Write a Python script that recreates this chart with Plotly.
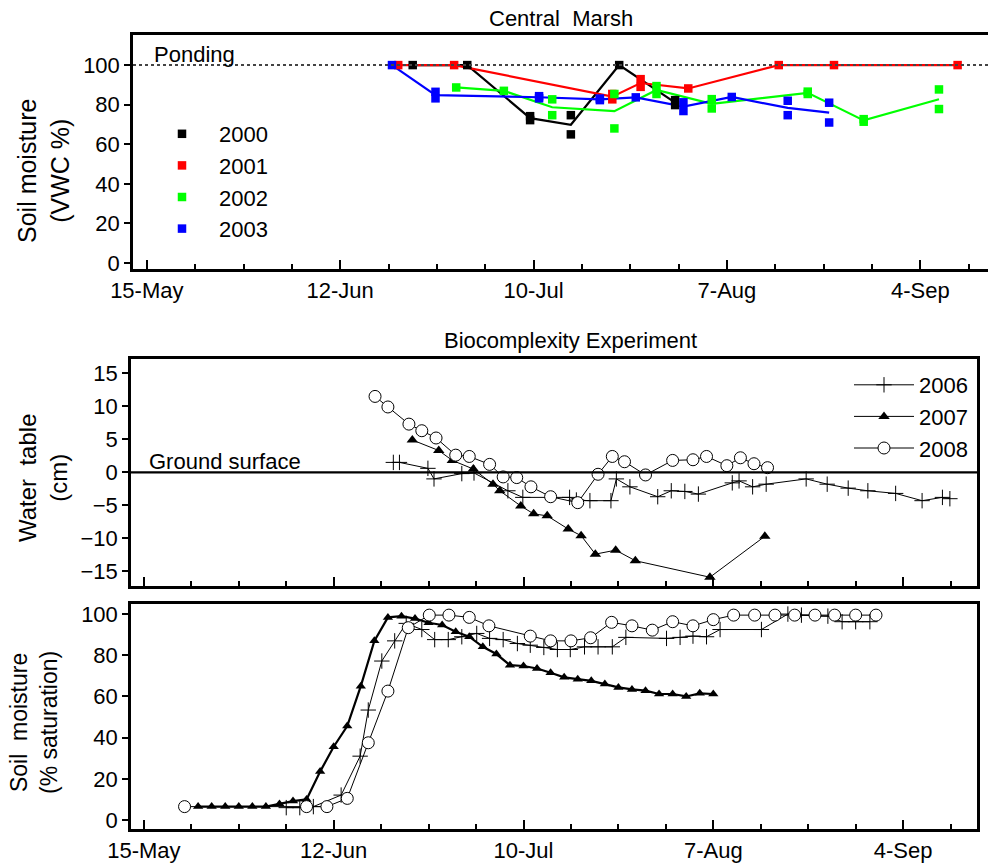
import plotly.graph_objects as go
import pandas as pd

W, H = 988, 863

# ---------------- tick labels (day of year) ----------------
date_ticks = [135, 163, 191, 219, 247]
date_labels = ["15-May", "12-Jun", "10-Jul", "7-Aug", "4-Sep"]

# ---------------- Central Marsh: soil moisture (VWC %) ----------------
cm2000_day = [173.5, 181.4, 190.5, 190.5, 196.4, 196.4, 203.4, 211.5, 211.5]
cm2000_val = [100, 100, 74.2, 72.2, 74.7, 65.0, 100, 82.3, 79.8]

cm2001_day = [171.4, 179.5, 202.4, 202.4, 206.5, 206.5, 213.4, 226.5, 234.5, 252.4]
cm2001_val = [100, 100, 82.7, 85.4, 92.9, 89.0, 88.2, 100, 100, 100]

cm2002_day = [179.8, 186.7, 193.7, 193.7, 202.7, 202.7, 208.8, 208.8, 216.8, 216.8,
              230.7, 230.7, 238.8, 238.8, 249.7, 249.7]
cm2002_val = [88.7, 87.0, 82.7, 74.7, 85.4, 68.0, 85.4, 89.4, 82.8, 78.1,
              85.4, 86.6, 72.7, 71.4, 87.7, 77.8]

cm2003_day = [170.5, 176.8, 176.8, 191.8, 191.8, 200.6, 200.6, 205.8, 212.7, 212.7,
              219.7, 227.8, 227.8, 233.8, 233.8]
cm2003_val = [100, 86.5, 83.2, 84.3, 83.2, 82.3, 83.1, 83.7, 81.2, 76.8,
              83.9, 82.0, 74.7, 81.0, 71.0]

# ---------------- Biocomplexity: water table (cm) ----------------
wt2006_day = [171.8, 172.7, 176.9, 177.8, 181.9, 183.7, 188.7, 190.9, 197.8, 198.8,
              200.8, 203.9, 204.7, 206.7, 210.8, 212.8, 214.8, 216.8, 221.8, 222.8,
              224.8, 226.8, 232.7, 235.8, 238.9, 241.8, 245.9, 249.8, 252.8, 253.9]
wt2006_val = [1.5, 1.5, 0.6, -1.0, -0.2, -0.1, -2.8, -3.8, -3.8, -4.2,
              -4.3, -4.3, -1.0, -2.2, -3.7, -2.8, -2.9, -3.3, -1.6, -1.3,
              -2.2, -1.8, -1.0, -1.8, -2.4, -2.8, -3.2, -4.3, -3.8, -4.0]

wt2007_day = [174.6, 178.5, 180.5, 183.6, 186.5, 187.5, 190.6, 192.5, 194.5, 197.6,
              199.5, 201.6, 204.6, 207.5, 218.5, 226.6]
wt2007_val = [4.9, 3.3, 1.8, 0.5, -1.8, -2.8, -5.1, -6.3, -6.6, -8.6,
              -9.6, -12.4, -11.8, -13.4, -15.9, -9.7]

wt2008_day = [169.1, 171.0, 174.1, 176.0, 178.1, 181.0, 183.0, 186.0, 188.0, 190.0,
              192.1, 195.0, 199.0, 202.0, 204.1, 205.9, 209.0, 213.0, 216.0, 218.0,
              221.0, 223.0, 225.0, 227.0]
wt2008_val = [11.5, 9.9, 7.3, 6.3, 5.2, 2.6, 2.4, 1.2, -0.7, -0.8,
              -2.2, -3.7, -4.6, -0.3, 2.4, 1.6, -0.4, 1.8, 1.9, 2.4,
              1.0, 2.2, 1.3, 0.7]

# ---------------- Biocomplexity: soil moisture (% saturation) ----------------
sm2006_day = [156.0, 158.0, 160.0, 164.1, 166.9, 168.1, 170.1, 172.0, 173.7, 176.0,
              177.9, 179.9, 181.9, 184.1, 186.0, 188.0, 190.1, 192.0, 194.0, 196.0,
              197.9, 200.0, 202.0, 204.1, 206.1, 212.1, 214.1, 216.0, 218.0, 220.0,
              226.1, 230.0, 232.0, 235.9, 238.0, 240.0, 242.1]
sm2006_val = [6.0, 6.0, 6.5, 12.1, 31.0, 53.4, 77.2, 87.0, 95.5, 92.5,
              87.6, 87.6, 89.0, 90.6, 88.2, 87.6, 85.7, 84.9, 83.8, 82.8,
              82.8, 84.1, 84.1, 84.1, 88.7, 88.2, 88.7, 89.3, 89.0, 92.5,
              92.5, 100.0, 99.5, 99.0, 96.3, 96.3, 96.3]

sm2007_day = [143, 145, 147, 149, 151, 153, 155, 157, 159, 161,
              163, 165, 167, 169, 171, 173, 175, 177, 179, 181,
              183, 185, 187, 189, 191, 193, 195, 197, 199, 201,
              203, 205, 207, 209, 211, 213, 215, 217, 219]
sm2007_val = [6.5, 6.5, 6.5, 6.5, 6.5, 6.5, 7.8, 9.2, 10.0, 23.5,
              35.6, 45.6, 65.0, 87.0, 98.4, 99.0, 97.8, 95.8, 94.7, 91.4,
              89.0, 84.1, 80.6, 75.2, 74.8, 73.6, 71.5, 69.3, 68.4, 67.6,
              66.0, 64.4, 63.4, 62.8, 61.2, 61.2, 60.0, 61.5, 61.2]

sm2008_day = [141.0, 159.0, 162.0, 165.0, 168.1, 171.0, 174.0, 177.1, 180.0, 183.0,
              185.9, 192.0, 195.0, 198.0, 200.9, 204.0, 207.0, 210.0, 213.0, 216.0,
              219.0, 222.0, 225.1, 228.1, 231.0, 234.0, 236.9, 240.0, 243.0]
sm2008_val = [6.5, 6.5, 6.5, 10.5, 37.5, 62.6, 93.4, 99.5, 99.5, 98.4,
              94.3, 89.3, 87.0, 87.0, 88.5, 96.0, 94.3, 92.2, 96.3, 94.3,
              97.3, 99.5, 99.5, 99.5, 99.5, 99.5, 99.5, 99.5, 99.5]

FONT = "Liberation Sans, Arial, sans-serif"

fig = go.Figure()

# ---------- top panel ----------
cm_series = [("2000", cm2000_day, cm2000_val, "#000000"),
             ("2001", cm2001_day, cm2001_val, "#ff0000"),
             ("2002", cm2002_day, cm2002_val, "#00ff00"),
             ("2003", cm2003_day, cm2003_val, "#0000ff")]
for name, d, v, c in cm_series:
    mean = pd.DataFrame({"d": d, "v": v}).groupby("d", sort=True)["v"].mean()
    fig.add_trace(go.Scatter(x=mean.index, y=mean.values, mode="lines",
                             line=dict(color=c, width=2.2), showlegend=False,
                             xaxis="x", yaxis="y", hoverinfo="skip"))
for name, d, v, c in cm_series:
    fig.add_trace(go.Scatter(x=d, y=v, mode="markers", name=name,
                             marker=dict(symbol="square", size=8.5, color=c, line=dict(width=0)),
                             xaxis="x", yaxis="y", legend="legend"))

# ---------- middle panel ----------
fig.add_trace(go.Scatter(x=wt2006_day, y=wt2006_val, mode="lines+markers", name="2006",
                         line=dict(color="black", width=1),
                         marker=dict(symbol="cross-thin", size=11, color="black",
                                     line=dict(width=1, color="black")),
                         xaxis="x2", yaxis="y2", legend="legend2"))
fig.add_trace(go.Scatter(x=wt2007_day, y=wt2007_val, mode="lines+markers", name="2007",
                         line=dict(color="black", width=1),
                         marker=dict(symbol="triangle-up", size=10, color="black"),
                         xaxis="x2", yaxis="y2", legend="legend2"))
fig.add_trace(go.Scatter(x=wt2008_day, y=wt2008_val, mode="lines+markers", name="2008",
                         line=dict(color="black", width=1),
                         marker=dict(symbol="circle", size=12, color="white",
                                     line=dict(width=1, color="black")),
                         xaxis="x2", yaxis="y2", legend="legend2"))

# ---------- bottom panel ----------
fig.add_trace(go.Scatter(x=sm2006_day, y=sm2006_val, mode="lines+markers", showlegend=False,
                         line=dict(color="black", width=1),
                         marker=dict(symbol="cross-thin", size=11, color="black",
                                     line=dict(width=1, color="black")),
                         xaxis="x3", yaxis="y3"))
fig.add_trace(go.Scatter(x=sm2007_day, y=sm2007_val, mode="lines+markers", showlegend=False,
                         line=dict(color="black", width=2.2),
                         marker=dict(symbol="triangle-up", size=9, color="black"),
                         xaxis="x3", yaxis="y3"))
fig.add_trace(go.Scatter(x=sm2008_day, y=sm2008_val, mode="lines+markers", showlegend=False,
                         line=dict(color="black", width=1),
                         marker=dict(symbol="circle", size=12, color="white",
                                     line=dict(width=1, color="black")),
                         xaxis="x3", yaxis="y3"))


def px(xp):
    return xp / W


def py(yp):
    return 1 - yp / H


tickfont = dict(family=FONT, size=22, color="black")
xcommon = dict(tickmode="array", tickvals=date_ticks, ticktext=date_labels,
               ticks="inside", ticklen=9, tickwidth=2, tickcolor="black",
               minor=dict(tickmode="linear", tick0=135, dtick=7, ticks="inside",
                          ticklen=5, tickwidth=2, tickcolor="black"),
               showline=True, linecolor="black", linewidth=2.5,
               showgrid=False, zeroline=False, tickfont=tickfont)
ycommon = dict(ticks="outside", ticklen=6, tickwidth=2, tickcolor="black",
               showline=True, linecolor="black", linewidth=2.5,
               showgrid=False, zeroline=False, tickfont=tickfont)

fig.update_layout(
    width=W, height=H,
    margin=dict(l=0, r=0, t=0, b=0, autoexpand=False),
    paper_bgcolor="white", plot_bgcolor="white",
    font=dict(family=FONT, color="black"),
    xaxis=dict(domain=[px(133), 1.0], range=[133.0, 256.8], mirror=True,
               anchor="y", **xcommon),
    yaxis=dict(domain=[py(269), py(35)], range=[-3.0, 115.2], tickmode="array",
               tickvals=[0, 20, 40, 60, 80, 100], anchor="x", **ycommon),
    xaxis2=dict(domain=[px(131), px(977)], range=[133.1, 257.9], mirror=True,
                showticklabels=False, anchor="y2", **xcommon),
    yaxis2=dict(domain=[py(586), py(359)], range=[-17.23, 17.17], tickmode="array",
                tickvals=[-15, -10, -5, 0, 5, 10, 15], mirror=True, anchor="x2", **ycommon),
    xaxis3=dict(domain=[px(131), px(977)], range=[133.1, 257.9], mirror=True,
                anchor="y3", **xcommon),
    yaxis3=dict(domain=[py(829), py(604)], range=[-4.37, 104.9], tickmode="array",
                tickvals=[0, 20, 40, 60, 80, 100], mirror=True, anchor="x3", **ycommon),
    legend=dict(x=px(145), y=py(113), xanchor="left", yanchor="top",
                font=dict(family=FONT, size=22), bgcolor="rgba(0,0,0,0)",
                tracegroupgap=0, itemwidth=64),
    legend2=dict(x=px(849), y=py(364), xanchor="left", yanchor="top",
                 font=dict(family=FONT, size=22), bgcolor="rgba(0,0,0,0)",
                 itemwidth=60, tracegroupgap=0),
    showlegend=True,
)

# reference lines
fig.add_shape(type="line", xref="x domain", yref="y", x0=0, x1=1, y0=100, y1=100,
              line=dict(color="#444444", width=2, dash="dot"))
fig.add_shape(type="line", xref="x2 domain", yref="y2", x0=0, x1=1, y0=0, y1=0,
              line=dict(color="black", width=2.2))

annots = [
    dict(text="Central  Marsh", x=px(561), y=py(18), size=22),
    dict(text="Biocomplexity Experiment", x=px(570), y=py(340), size=22),
]
for a in annots:
    fig.add_annotation(text=a["text"], x=a["x"], y=a["y"], xref="paper", yref="paper",
                       showarrow=False, xanchor="center", yanchor="middle",
                       font=dict(family=FONT, size=a["size"], color="black"))

fig.add_annotation(text="Ponding", x=px(152), y=py(55), xref="paper", yref="paper",
                   showarrow=False, xanchor="left", yanchor="middle",
                   font=dict(family=FONT, size=22, color="black"))
fig.add_annotation(text="Ground surface", x=px(147), y=py(461), xref="paper", yref="paper",
                   showarrow=False, xanchor="left", yanchor="middle",
                   font=dict(family=FONT, size=22, color="black"))

ytitles = [
    ("Soil moisture<br>(VWC %)", 43, 171, 25),
    ("Water  table<br>(cm)", 43, 478, 24),
    ("Soil  moisture<br>(% saturation)", 34, 723, 23),
]
for t, xp, yp, s in ytitles:
    fig.add_annotation(text=t, x=px(xp), y=py(yp), xref="paper", yref="paper",
                       showarrow=False, textangle=-90, xanchor="center", yanchor="middle",
                       font=dict(family=FONT, size=s, color="black"))

fig.write_html("out.html")
